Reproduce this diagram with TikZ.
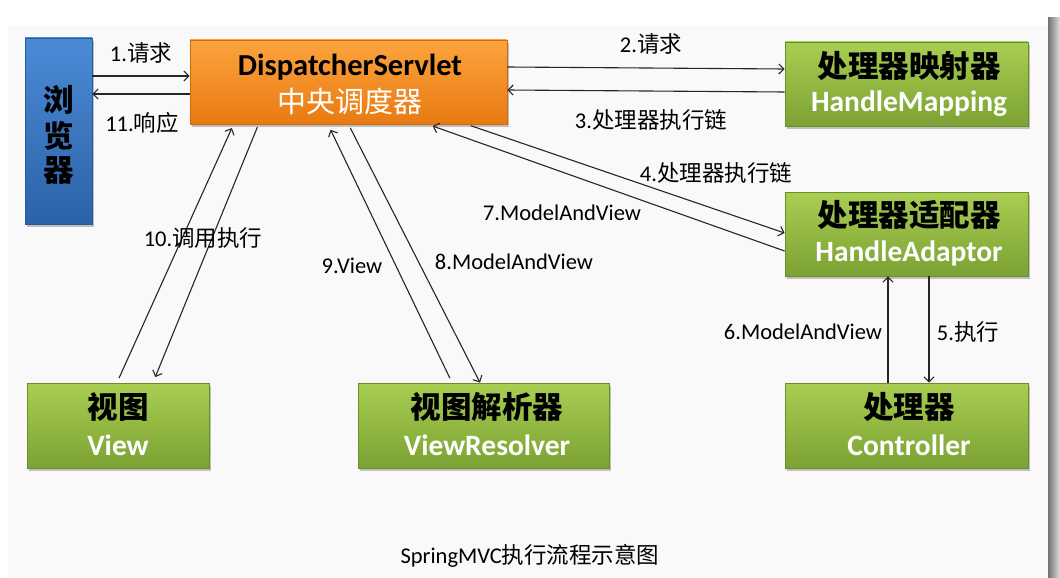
\documentclass[tikz,border=0pt]{standalone}
\usepackage{fontspec}
\setmainfont{Carlito}
\newfontfamily\cjk{Noto Sans CJK SC}
\usetikzlibrary{arrows.meta,shadows,calc}
\definecolor{bgc}{HTML}{F9F9F9}
\definecolor{gtop}{HTML}{A9CE52}
\definecolor{gbot}{HTML}{7BA233}
\definecolor{gedge}{HTML}{6A8E2A}
\definecolor{otop}{HTML}{FCA43E}
\definecolor{obot}{HTML}{E97A12}
\definecolor{oedge}{HTML}{D06A10}
\definecolor{btop}{HTML}{4B8BD6}
\definecolor{bbot}{HTML}{2C62A8}
\definecolor{bedge}{HTML}{2A5A98}
\newcommand{\zh}[1]{{\cjk #1}}
\begin{document}
\begin{tikzpicture}[x=1pt,y=-1pt,
  box/.style={rectangle,draw=gedge,line width=0.8pt,top color=gtop,bottom color=gbot,
    minimum width=243pt,minimum height=84pt,inner sep=0pt,
    drop shadow={shadow xshift=2pt,shadow yshift=-3pt,fill=black!40,opacity=0.6}},
  obox/.style={box,draw=oedge,top color=otop,bottom color=obot},
  bbox/.style={box,draw=bedge,top color=btop,bottom color=bbot},
  zhb/.style={font=\cjk\bfseries\fontsize{30.5}{32}\selectfont,text=black,inner sep=0pt},
  enw/.style={font=\bfseries\fontsize{29.5}{31}\selectfont,text=white,inner sep=0pt},
  lab/.style={font=\fontsize{22.5}{25}\selectfont,text=black,inner sep=0pt},
  arr/.style={line width=1.1pt,black!85,-{Straight Barb[length=5pt,width=10pt]}},
]
\useasboundingbox (0,0) rectangle (1060,578);
\fill[white] (0,0) rectangle (1060,578);
\fill[bgc] (8,26) rectangle (1048,578);
\shade[left color=black!55,right color=black!12] (1048,18) rectangle (1060,578);

% boxes
\node[bbox,minimum width=67pt,minimum height=186pt] (br) at (58.5,131) {};
\node[obox,minimum width=317pt] (ds) at (348.5,82) {};
\node[box] (hm) at (906.5,84) {};
\node[box] (ha) at (906.5,234) {};
\node[box,minimum width=182pt,minimum height=85pt] (vw) at (118,425.5) {};
\node[box,minimum width=251pt,minimum height=85pt] (vr) at (483.5,425.5) {};
\node[box,minimum height=85pt] (ct) at (906.5,425.5) {};

% box texts
\node[zhb] (brt1) at (58.5,100) {浏};
\node[zhb] (brt2) at (58.5,136) {览};
\node[zhb] (brt3) at (58.5,171) {器};
\node[font=\bfseries\fontsize{30.5}{32}\selectfont,inner sep=0pt] (dst1) at (350,67) {DispatcherServlet};
\node[font=\cjk\fontsize{29}{30}\selectfont,text=white,inner sep=0pt] (dst2) at (350,101) {中央调度器};
\node[zhb] (hmt1) at (909,66) {处理器映射器};
\node[enw] (hmt2) at (909,104) {HandleMapping};
\node[zhb] (hat1) at (909,215) {处理器适配器};
\node[enw] (hat2) at (909,253) {HandleAdaptor};
\node[zhb] (vwt1) at (118,407) {视图};
\node[enw] (vwt2) at (118,445) {View};
\node[zhb] (vrt1) at (487,407) {视图解析器};
\node[enw] (vrt2) at (487,445) {ViewResolver};
\node[zhb] (ctt1) at (909,407) {处理器};
\node[enw] (ctt2) at (909,445) {Controller};

% connectors
\draw[arr] ([yshift=55pt]br.east) -- ([yshift=6pt]ds.west);
\draw[arr] ([yshift=-12pt]ds.west) -- ([yshift=37pt]br.east);
\draw[arr] ([yshift=15pt]ds.east) -- ([yshift=15pt]hm.west);
\draw[arr] ([yshift=-8pt]hm.west) -- ([yshift=-8pt]ds.east);
\draw[arr,shorten <=4pt] ([xshift=118.5pt]ds.south) -- ([yshift=1pt]ha.west);
\draw[arr,shorten >=5pt] ([yshift=-17pt]ha.west) -- ([xshift=79.5pt]ds.south);
\draw[arr,shorten <=5pt,shorten >=4pt] ([xshift=-1pt]vw.north) -- ([xshift=-115pt]ds.south);
\draw[arr,shorten <=3pt,shorten >=6pt] ([xshift=-90pt]ds.south) -- ([xshift=35pt]vw.north);
\draw[arr,shorten <=5pt,shorten >=6pt] ([xshift=-31.5pt]vr.north) -- ([xshift=-20.5pt]ds.south);
\draw[arr,shorten <=4pt] ([xshift=0pt]ds.south) -- ([xshift=-3.5pt]vr.north);
\draw[arr] ([xshift=-18.5pt]ct.north) -- ([xshift=-18.5pt]ha.south);
\draw[arr] ([xshift=22.5pt]ha.south) -- ([xshift=22.5pt]ct.north);

% labels
\node[lab] (l1) at (141,53) {1.\zh{请求}};
\node[lab] (l11) at (142,123) {11.\zh{响应}};
\node[lab] (l2) at (651,44) {2.\zh{请求}};
\node[lab] (l3) at (651,120) {3.\zh{处理器执行链}};
\node[lab] (l4) at (716,173) {4.\zh{处理器执行链}};
\node[lab] (l7) at (562,213) {7.ModelAndView};
\node[lab] (l10) at (203,238) {10.\zh{调用执行}};
\node[lab] (l9) at (352,266) {9.View};
\node[lab] (l8) at (514,262) {8.ModelAndView};
\node[lab] (l6) at (803,332) {6.ModelAndView};
\node[lab] (l5) at (968,332) {5.\zh{执行}};
\node[lab] (cap) at (530,556) {SpringMVC\zh{执行流程示意图}};
\end{tikzpicture}
\end{document}
